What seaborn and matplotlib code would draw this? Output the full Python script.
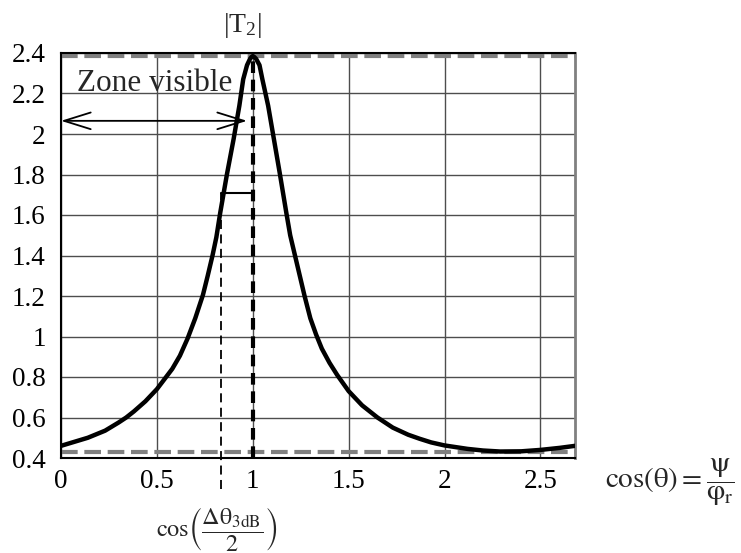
import numpy as np
import pandas as pd
import matplotlib
matplotlib.use("Agg")
import matplotlib.pyplot as plt
import seaborn as sns

# ========= Data =========
cos_theta = [0.0, 0.07, 0.14, 0.23, 0.30, 0.34, 0.38, 0.44, 0.47, 0.50,
             0.54, 0.58, 0.62, 0.66, 0.70, 0.74, 0.765, 0.79, 0.81, 0.83,
             0.865, 0.90, 0.93, 0.95, 0.97, 0.985, 0.993, 1.0, 1.008, 1.018,
             1.035, 1.05, 1.08, 1.11, 1.14, 1.175, 1.195, 1.22, 1.245, 1.27,
             1.30, 1.33, 1.36, 1.40, 1.44, 1.47, 1.50, 1.57, 1.65, 1.73,
             1.81, 1.87, 1.93, 2.0, 2.12, 2.2, 2.29, 2.4, 2.5, 2.6, 2.68]
t2_mag = [0.46, 0.48, 0.50, 0.535, 0.575, 0.60, 0.63, 0.68, 0.71, 0.74,
          0.79, 0.84, 0.905, 0.99, 1.09, 1.205, 1.30, 1.40, 1.49, 1.61,
          1.80, 1.975, 2.14, 2.27, 2.34, 2.37, 2.38, 2.385, 2.38, 2.37,
          2.34, 2.27, 2.14, 1.975, 1.81, 1.61, 1.50, 1.40, 1.30, 1.20,
          1.09, 1.01, 0.94, 0.87, 0.81, 0.77, 0.73, 0.66, 0.60, 0.55,
          0.515, 0.495, 0.477, 0.462, 0.445, 0.437, 0.432, 0.433, 0.44, 0.45, 0.46]

t2_max = 2.385
t2_min = 0.428
x_peak = 1.0
x_3db = 0.835
t2_3db = 1.71
zone_y = 2.065
zone_x_end = 0.97

x_ticks = [0, 0.5, 1, 1.5, 2, 2.5]
x_tick_labels = ["0", "0.5", "1", "1.5", "2", "2.5"]
y_ticks = [0.4, 0.6, 0.8, 1.0, 1.2, 1.4, 1.6, 1.8, 2.0, 2.2, 2.4]
y_tick_labels = ["0.4", "0.6", "0.8", "1", "1.2", "1.4", "1.6", "1.8", "2", "2.2", "2.4"]

df = pd.DataFrame({"cos_theta": cos_theta, "T2": t2_mag})

# ========= Style =========
sns.set_theme(style="whitegrid")
plt.rcParams["font.family"] = ["Liberation Serif", "DejaVu Serif"]
plt.rcParams["mathtext.fontset"] = "stix"

fig = plt.figure(figsize=(7.41, 5.53), dpi=100)
ax = fig.add_axes([61 / 741, 1 - 458 / 553, (575 - 61) / 741, (458 - 53) / 553])

# limit lines (min / max)
ax.axhline(t2_max, color="#808080", lw=3, ls=(0, (4, 1.6)), zorder=2)
ax.axhline(t2_min, color="#808080", lw=3, ls=(0, (4, 1.6)), zorder=2)

# curve
sns.lineplot(data=df, x="cos_theta", y="T2", color="black", lw=3.2,
             sort=False, ax=ax, zorder=4)

# peak marker (thick dashed)
ax.plot([x_peak, x_peak], [0.4, t2_max], color="black", lw=3,
        ls=(0, (2.8, 1.6)), zorder=5)

# -3 dB marker (thin dashed going below the axis)
ax.plot([x_3db, x_3db], [0.245, t2_3db], color="black", lw=1.3,
        ls=(0, (5, 3)), clip_on=False, zorder=5)
ax.plot([x_3db, x_peak], [t2_3db, t2_3db], color="black", lw=1.5, zorder=5)

# visible zone arrow
ax.annotate("", xy=(0, zone_y), xytext=(zone_x_end, zone_y),
            arrowprops=dict(arrowstyle="<->,head_length=1.6,head_width=0.5",
                            color="black", lw=1.3, shrinkA=0, shrinkB=0),
            zorder=6)
ax.text(0.085, 2.212, "Zone visible", fontsize=22.5, ha="left", va="baseline",
        zorder=6)

# axes
ax.set_xlim(0, 2.68)
ax.set_ylim(0.4, 2.4)
ax.set_xticks(x_ticks)
ax.set_xticklabels(x_tick_labels)
ax.set_yticks(y_ticks)
ax.set_yticklabels(y_tick_labels)
ax.tick_params(axis="both", length=0, labelsize=19.5, colors="black")
ax.tick_params(axis="y", pad=11)
ax.tick_params(axis="x", pad=8)
ax.set_xlabel("")
ax.set_ylabel("")
ax.grid(True, color="0.3", lw=1)
ax.set_facecolor("white")
for side in ["left", "bottom", "top"]:
    ax.spines[side].set_color("black")
    ax.spines[side].set_linewidth(1.5)
ax.spines["right"].set_color("#808080")
ax.spines["right"].set_linewidth(2)

# labels
fig.text(243 / 741, 1 - 25 / 553, r"|T$_\mathregular{2}$|", fontsize=20,
         ha="center", va="center")
fig.text(605 / 741, 1 - 482 / 553,
         r"$\mathrm{cos}\left(\mathrm{θ}\right) = \dfrac{\mathrm{ψ}}{\mathrm{φ}_\mathrm{r}}$",
         fontsize=21, ha="left", va="center")
fig.text(217 / 741, 1 - 529 / 553,
         r"$\mathrm{cos}\left(\dfrac{\mathrm{Δθ}_\mathrm{3dB}}{2}\right)$",
         fontsize=17.5, ha="center", va="center")

fig.savefig("out.png", dpi=100, facecolor="white")
